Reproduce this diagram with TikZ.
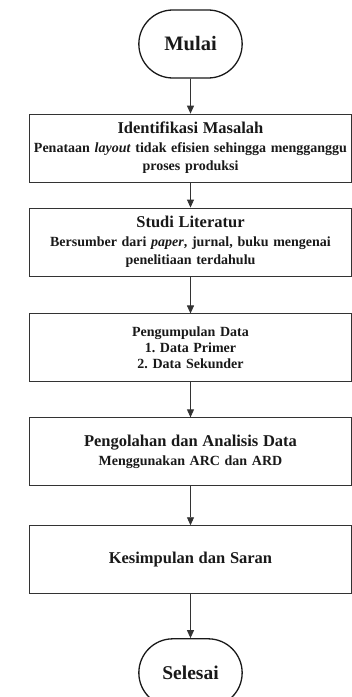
\documentclass[tikz,border=0pt]{standalone}
\usepackage{fontspec}
\setmainfont{Liberation Serif}
\usetikzlibrary{shapes.misc,arrows.meta,positioning}

\newcommand{\judul}[1]{{\fontsize{16.5}{19}\selectfont #1}}
\frenchspacing

\begin{document}
\begin{tikzpicture}[x=1pt,y=1pt]

      \tikzstyle{startstop}=[rounded rectangle,draw=black!90,
        line width=1.3pt,minimum width=110pt,minimum height=68pt,
        text=black!90,font=\fontsize{20.5}{24}\selectfont\bfseries]
      \tikzstyle{process}=[rectangle,draw=black!80,line width=0.9pt,
        minimum width=322pt,minimum height=68pt,text width=316pt,
        align=center,text=black!90,
        font=\fontsize{14}{18.5}\selectfont\bfseries]
      \tikzstyle{arrow}=[line width=0.9pt,draw=black!80,
        -{Triangle[width=7pt,length=8pt]}]

      \useasboundingbox (0,0) rectangle (352,-697);

      \node(Mulai)[startstop] at (190.5,-44){Mulai};
      \node(Identifikasi)[process,below=35pt of Mulai]{\judul{Identifikasi Masalah}\\
        Penataan \textit{layout} tidak efisien sehingga mengganggu\\
        proses produksi};
      \node(Studi)[process,below=25pt of Identifikasi]{\judul{Studi Literatur}\\
        Bersumber dari \textit{paper}, jurnal, buku mengenai\\
        penelitiaan terdahulu};
      \node(Pengumpulan)[process,below=37pt of Studi,
        font=\fontsize{14}{16}\selectfont\bfseries]{Pengumpulan Data\\
        1. Data Primer\\
        2. Data Sekunder};
      \node(Pengolahan)[process,below=35pt of Pengumpulan]{\judul{Pengolahan dan Analisis Data}\\
        Menggunakan ARC dan ARD};
      \node(Kesimpulan)[process,below=39pt of Pengolahan]{\judul{Kesimpulan dan Saran}};
      \node(Selesai)[startstop,below=44pt of Kesimpulan,
        font=\fontsize{19.5}{23}\selectfont\bfseries]{Selesai};

      \draw [arrow] (Mulai)--(Identifikasi);
      \draw [arrow] (Identifikasi)--(Studi);
      \draw [arrow] (Studi)--(Pengumpulan);
      \draw [arrow] (Pengumpulan)--(Pengolahan);
      \draw [arrow] (Pengolahan)--(Kesimpulan);
      \draw [arrow] (Kesimpulan)--(Selesai);

\end{tikzpicture}
\end{document}
